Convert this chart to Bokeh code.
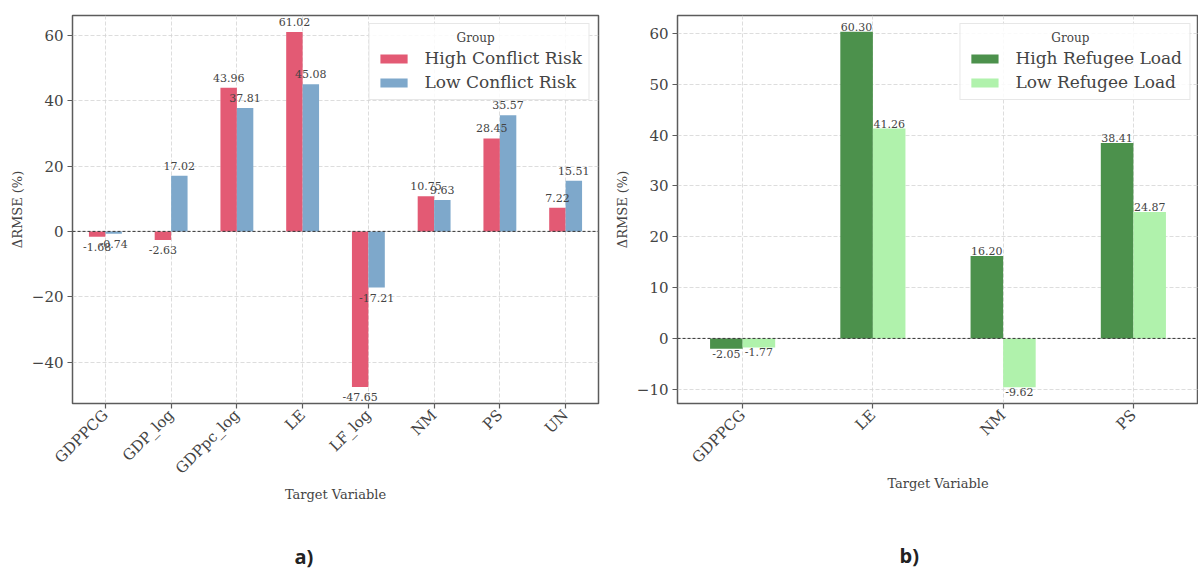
import math
from bokeh.plotting import figure
from bokeh.models import ColumnDataSource, Span, Legend, LegendItem, Title
from bokeh.transform import dodge
from bokeh.layouts import row
from bokeh.embed import file_html
from bokeh.resources import INLINE

# ---------------- data ----------------
targets_a = ["GDPPCG", "GDP_log", "GDPpc_log", "LE", "LF_log", "NM", "PS", "UN"]
high_conflict = [-1.68, -2.63, 43.96, 61.02, -47.65, 10.75, 28.45, 7.22]
low_conflict = [-0.74, 17.02, 37.81, 45.08, -17.21, 9.63, 35.57, 15.51]
series_a = ["High Conflict Risk", "Low Conflict Risk"]

targets_b = ["GDPPCG", "LE", "NM", "PS"]
high_refugee = [-2.05, 60.30, 16.20, 38.41]
low_refugee = [-1.77, 41.26, -9.62, 24.87]
series_b = ["High Refugee Load", "Low Refugee Load"]

yticks_a = [-40, -20, 0, 20, 40, 60]
yticks_b = [-10, 0, 10, 20, 30, 40, 50, 60]

y_label = "\u0394RMSE (%)"
x_label = "Target Variable"
legend_title = "Group"
panel_labels = ["a)", "b)"]

FONT = "DejaVu Serif"
TXT = "#444444"


def make_panel(cats, v1, v2, names, colors, yrange, yticks, frame_w,
               border_l, border_r, panel_label, lab_off, title_standoff,
               nbsp):
    p = figure(x_range=cats, y_range=yrange, frame_width=frame_w,
               frame_height=388, min_border_left=border_l,
               min_border_right=border_r, min_border_top=15,
               min_border_bottom=0, output_backend="svg",
               toolbar_location=None, title=None)
    p.background_fill_color = "white"
    p.border_fill_color = "white"
    p.outline_line_color = "#5c5c5c"
    p.outline_line_width = 1.5

    src = ColumnDataSource(dict(
        cat=cats, v1=v1, v2=v2,
        t1=[f"{v:.2f}" for v in v1], t2=[f"{v:.2f}" for v in v2],
        b1=["bottom" if v >= 0 else "top" for v in v1],
        b2=["bottom" if v >= 0 else "top" for v in v2],
        o1=[-lab_off if v >= 0 else lab_off for v in v1],
        o2=[-lab_off if v >= 0 else lab_off for v in v2],
    ))

    r1 = p.vbar(x=dodge("cat", -0.125, range=p.x_range), top="v1", bottom=0,
                width=0.25, source=src, fill_color=colors[0], line_color=None)
    r2 = p.vbar(x=dodge("cat", 0.125, range=p.x_range), top="v2", bottom=0,
                width=0.25, source=src, fill_color=colors[1], line_color=None)

    p.add_layout(Span(location=0, dimension="width", line_color="#333333",
                      line_width=1, line_dash="3 2"))

    for xo, vcol, tcol, bcol, ocol in [(-0.125, "v1", "t1", "b1", "o1"),
                                       (0.125, "v2", "t2", "b2", "o2")]:
        p.text(x=dodge("cat", xo, range=p.x_range), y=vcol, text=tcol,
               source=src, text_align="center", text_baseline=bcol,
               y_offset=ocol, text_font_size="11px", text_color=TXT,
               text_font={"value": FONT})

    # axes
    p.yaxis.ticker = yticks
    p.yaxis.major_label_overrides = {t: (f"\u2212{abs(t)}" if t < 0 else str(t)) for t in yticks}
    for ax in (p.xaxis, p.yaxis):
        ax.axis_line_color = None
        ax.major_tick_line_color = "#5c5c5c"
        ax.major_tick_line_width = 1.2
        ax.major_tick_out = 5
        ax.major_tick_in = 0
        ax.minor_tick_line_color = None
        ax.major_label_text_font = FONT
        ax.major_label_text_font_size = "15px"
        ax.major_label_text_color = TXT
        ax.major_label_standoff = 4
        ax.axis_label_text_font = FONT
        ax.axis_label_text_font_style = "normal"
        ax.axis_label_text_color = TXT
        ax.axis_label_text_font_size = "13px"
        ax.axis_label_standoff = 4
    p.xaxis.axis_label_standoff = 0
    p.xaxis.axis_label = x_label
    p.yaxis.axis_label = y_label
    p.xaxis.major_label_orientation = math.pi / 4
    p.xaxis.group_text_font_size = "0px"

    for g in (p.xgrid, p.ygrid):
        g.grid_line_color = "#d4d4d4"
        g.grid_line_dash = "4 2"
        g.grid_line_width = 0.8

    legend = Legend(items=[LegendItem(label=names[0], renderers=[r1]),
                           LegendItem(label=names[1], renderers=[r2])],
                    location="top_right")
    legend.title = "\u00a0" * nbsp + legend_title
    legend.title_text_font = FONT
    legend.title_text_font_size = "12px"
    legend.title_text_font_style = "normal"
    legend.title_text_color = TXT
    legend.title_standoff = 3
    legend.label_text_font = FONT
    legend.label_text_font_size = "17px"
    legend.label_text_color = TXT
    legend.glyph_width = 34
    legend.glyph_height = 11
    legend.label_height = 20
    legend.spacing = 4
    legend.padding = 7
    legend.label_standoff = 14
    legend.margin = 8
    legend.border_line_color = "#d0d0d0"
    legend.border_line_width = 1
    legend.background_fill_alpha = 0.85
    p.add_layout(legend)

    t = Title(text=panel_label, align="left", offset=222,
              text_font="Open Sans", text_font_size="20px",
              text_font_style="bold", text_color="#222222",
              standoff=title_standoff)
    p.add_layout(t, "below")
    return p


pa = make_panel(targets_a, high_conflict, low_conflict, series_a,
                ["#E35A74", "#7EA8CB"], (-52.7, 66.1), yticks_a, 526,
                72, 12, panel_labels[0], 6, 72, 21)
pb = make_panel(targets_b, high_refugee, low_refugee, series_b,
                ["#4C914C", "#B0F2AC"], (-12.8, 63.5), yticks_b, 521,
                67, 0, panel_labels[1], 1, 90, 22)

layout = row(pa, pb)
open("out.html", "w").write(file_html(layout, INLINE))
